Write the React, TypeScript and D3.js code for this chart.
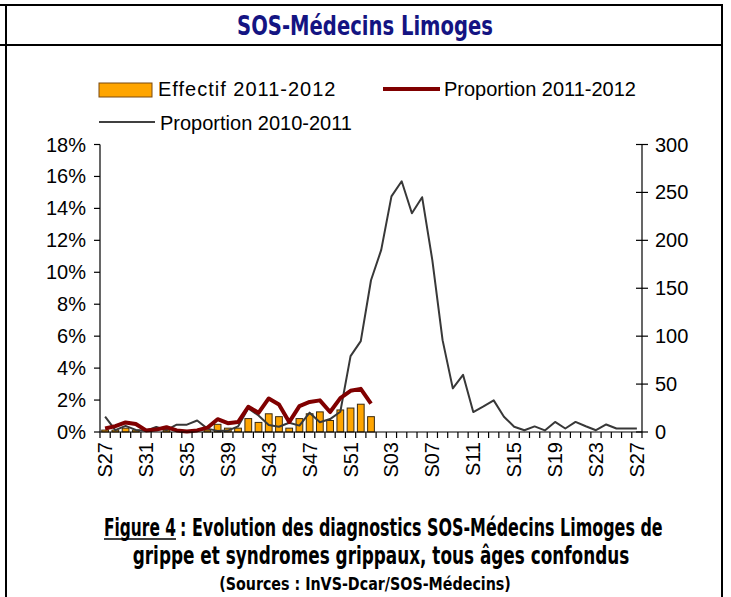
import React, { useEffect, useLayoutEffect, useRef, useState } from 'react';
import * as d3 from 'd3';

// week labels S27 (2011) .. S27 (2012)
const weeks = [
  'S27', 'S28', 'S29', 'S30', 'S31', 'S32', 'S33', 'S34', 'S35', 'S36', 'S37', 'S38', 'S39',
  'S40', 'S41', 'S42', 'S43', 'S44', 'S45', 'S46', 'S47', 'S48', 'S49', 'S50', 'S51', 'S52',
  'S01', 'S02', 'S03', 'S04', 'S05', 'S06', 'S07', 'S08', 'S09', 'S10', 'S11', 'S12', 'S13',
  'S14', 'S15', 'S16', 'S17', 'S18', 'S19', 'S20', 'S21', 'S22', 'S23', 'S24', 'S25', 'S26', 'S27b',
];

// Effectif 2011-2012 (right axis, count)
const effectif1112 = [2, 2, 4, 2, 0, 0, 2, 0, 0, 0, 2, 8, 4, 4, 14, 10, 19, 16, 4, 14, 19, 21, 12, 23, 25, 29, 16];

// Proportion 2011-2012 (left axis, %)
const prop1112 = [0.22, 0.37, 0.6, 0.5, 0.1, 0.15, 0.3, 0.1, 0.03, 0.1, 0.27, 0.8, 0.55, 0.62, 1.58, 1.2, 2.1, 1.72, 0.62, 1.62, 1.88, 1.98, 1.25, 2.12, 2.58, 2.7, 1.78];

// Proportion 2010-2011 (left axis, %)
const prop1011 = [
  0.96, 0.12, 0.38, 0.13, 0.08, 0.31, 0.12, 0.46, 0.46, 0.72, 0.21, 0.07, 0.09, 0.35,
  1.48, 1.03, 0.44, 0.33, 0.58, 0.4, 1.21, 0.61, 0.81, 1.27, 4.75, 5.69, 9.5, 11.4,
  14.75, 15.7, 13.7, 14.7, 10.75, 5.75, 2.73, 3.58, 1.25, 1.6, 1.98, 0.96, 0.33, 0.11,
  0.35, 0.1, 0.63, 0.22, 0.63, 0.36, 0.11, 0.47, 0.22, 0.22, 0.22,
];

const leftTicks = [0, 2, 4, 6, 8, 10, 12, 14, 16, 18];
const rightTicks = [0, 50, 100, 150, 200, 250, 300];

const sans = '"Liberation Sans", Arial, sans-serif';
const narrow = '"Liberation Sans Narrow", "DejaVu Sans Condensed", "Arial Narrow", sans-serif';

// text squeezed horizontally to a given width (condensed look)
const FitText = ({ x, y, width, children, fontSize, fill = '#000', anchor = 'start' }) => {
  const ref = useRef<SVGTextElement>(null);
  const [sx, setSx] = useState(1);
  useLayoutEffect(() => {
    if (!ref.current) return;
    const len = ref.current.getComputedTextLength();
    if (len > 0) setSx(width / len);
  }, [width, children]);
  return (
    <text ref={ref} transform={`translate(${x},${y}) scale(${sx},1)`} textAnchor={anchor}
      fontFamily={narrow} fontWeight="bold" fontSize={fontSize} fill={fill}>{children}</text>
  );
};

const App = () => {
  useEffect(() => {
    document.body.style.margin = '0';
  }, []);

  const x = d3.scaleBand<number>()
    .domain(weeks.map((_, i) => i))
    .range([100, 642])
    .padding(0);
  const bw = x.bandwidth();
  const cx = (i: number) => (x(i) as number) + bw / 2;

  const yL = d3.scaleLinear().domain([0, 18]).range([432, 144.5]);
  const yR = d3.scaleLinear().domain([0, 300]).range([432, 144.5]);

  const line = d3.line<number>()
    .x((_, i) => cx(i))
    .y(d => yL(d));

  const barW = bw * 0.66;

  return (
    <svg width={731} height={597} style={{ display: 'block', background: '#fff' }}>
      {/* frame */}
      <g stroke="#000" strokeWidth={2}>
        <line x1={0} x2={723} y1={5} y2={5} />
        <line x1={0} x2={723} y1={45} y2={45} />
        <line x1={722} x2={722} y1={5} y2={597} />
        <line x1={6} x2={6} y1={5} y2={597} />
      </g>
      <FitText x={365} y={35} width={256} fontSize={27} fill="#141482" anchor="middle">SOS-Médecins Limoges</FitText>

      {/* legend */}
      <rect x={99} y={83} width={53} height={14} fill="#FFA500" stroke="#7a4a10" strokeWidth={1} />
      <text x={158} y={96} fontFamily={sans} fontSize={20} fill="#000" letterSpacing={1}>Effectif 2011-2012</text>
      <line x1={383} x2={440} y1={89} y2={89} stroke="#800000" strokeWidth={4} />
      <text x={444} y={96} fontFamily={sans} fontSize={20} fill="#000">Proportion 2011-2012</text>
      <line x1={99} x2={155} y1={122} y2={122} stroke="#404040" strokeWidth={2} />
      <text x={160} y={130} fontFamily={sans} fontSize={20} fill="#000">Proportion 2010-2011</text>

      {/* left axis */}
      <g stroke="#000" strokeWidth={1.2}>
        <line x1={100} x2={100} y1={144.5} y2={432} />
        {leftTicks.map(t => (
          <line key={t} x1={94} x2={100} y1={yL(t)} y2={yL(t)} />
        ))}
      </g>
      {leftTicks.map(t => (
        <text key={t} x={86} y={yL(t) + 7} textAnchor="end" fontFamily={sans} fontSize={20} fill="#000">{t}%</text>
      ))}

      {/* right axis */}
      <g stroke="#000" strokeWidth={1.2}>
        <line x1={642} x2={642} y1={144.5} y2={432} />
        {rightTicks.map(t => (
          <line key={t} x1={636} x2={648} y1={yR(t)} y2={yR(t)} />
        ))}
      </g>
      {rightTicks.map(t => (
        <text key={t} x={655} y={yR(t) + 7} textAnchor="start" fontFamily={sans} fontSize={20} fill="#000">{t}</text>
      ))}

      {/* bars */}
      {effectif1112.map((v, i) => v > 0 && (
        <rect key={i} x={cx(i) - barW / 2} y={yR(v)} width={barW} height={432 - yR(v)}
          fill="#FFA500" stroke="#3a2a10" strokeWidth={1} />
      ))}

      {/* lines */}
      <path d={line(prop1011) as string} fill="none" stroke="#383838" strokeWidth={2} strokeLinejoin="round" />
      <path d={line(prop1112) as string} fill="none" stroke="#800000" strokeWidth={4} strokeLinejoin="round" />

      {/* x axis */}
      <g stroke="#000" strokeWidth={1.2}>
        <line x1={100} x2={642} y1={432} y2={432} />
        {d3.range(weeks.length + 1).map(i => (
          <line key={i} x1={100 + i * bw} x2={100 + i * bw} y1={432} y2={438} />
        ))}
      </g>
      {weeks.map((w, i) => i % 4 === 0 && (
        <text key={i} transform={`translate(${cx(i)},442) rotate(-90)`} textAnchor="end" dy="0.35em"
          fontFamily={sans} fontSize={20} fill="#000">{w.slice(0, 3)}</text>
      ))}

      {/* caption */}
      <FitText x={104} y={536} width={72} fontSize={25}>Figure 4</FitText>
      <line x1={104} x2={176} y1={539} y2={539} stroke="#000" strokeWidth={1.5} />
      <FitText x={180} y={536} width={483} fontSize={25}>: Evolution des diagnostics SOS-Médecins Limoges de</FitText>
      <FitText x={381} y={564} width={497} fontSize={25} anchor="middle">grippe et syndromes grippaux, tous âges confondus</FitText>
      <FitText x={365} y={590} width={292} fontSize={18} anchor="middle">(Sources : InVS-Dcar/SOS-Médecins)</FitText>
    </svg>
  );
};

export default App;
